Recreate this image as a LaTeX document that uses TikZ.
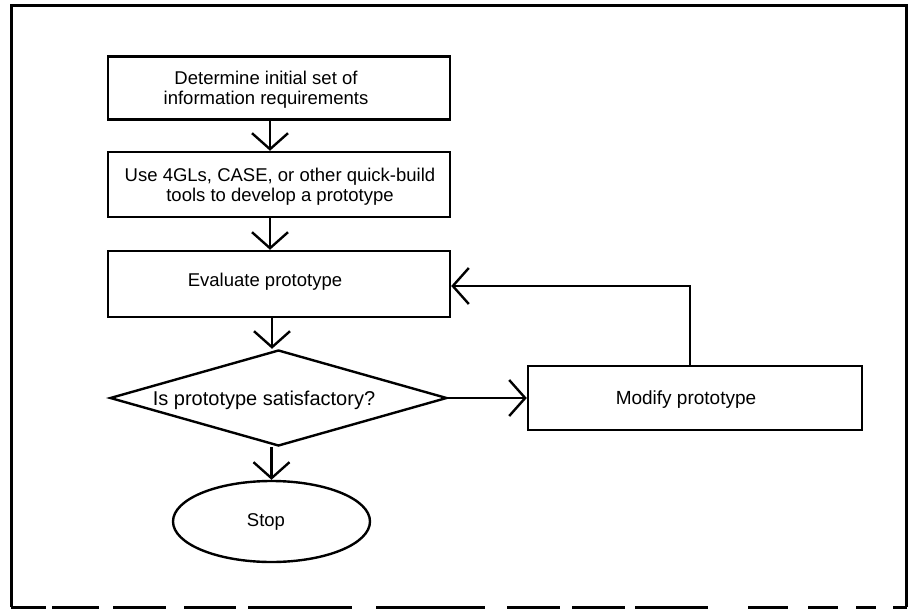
\documentclass[tikz,border=0pt]{standalone}
\usepackage{fontspec}
\setmainfont{Liberation Sans}
\usetikzlibrary{arrows.meta,shapes.geometric}
\begin{document}
\begin{tikzpicture}[x=1pt,y=-1pt,
  stepbox/.style={draw, rectangle, line width=2.4pt, inner sep=0pt},
  decision/.style={draw, diamond, line width=2.4pt, inner sep=0pt},
  terminal/.style={draw, ellipse, line width=2.4pt, inner sep=0pt},
  txt/.style={inner sep=0pt, align=center, font=\fontsize{#1}{20}\selectfont},
  txt/.default=18.5,
  flow/.style={line width=2.4pt, -{Straight Barb[length=16pt,width=36pt]}},
  frameline/.style={line width=3pt}]
  % page and frame
  \fill[white] (0,0) rectangle (911,610);
  \useasboundingbox (0,0) rectangle (911,610);
  \draw[frameline] (11,607) -- (11,6) -- (906,6) -- (906,607);
  \draw[frameline, dash pattern=on 35pt off 6pt on 47pt off 14pt on 53pt off 18pt on 52pt off 12pt on 104pt off 24pt on 109pt off 22pt on 53pt off 12pt on 53pt off 10pt on 73pt off 40pt on 40pt off 20pt on 30pt off 18pt on 20pt off 17pt]
    (11,607) -- (907,607);

  % process boxes
  \node[stepbox, minimum width=342pt, minimum height=63pt] (b1) at (279,88) {};
  \node[txt] (t1) at (266,90) {Determine initial set of\\information requirements};

  \node[stepbox, minimum width=342pt, minimum height=65pt] (b2) at (279,184.5) {};
  \node[txt] (t2) at (280,187) {Use 4GLs, CASE, or other quick-build\\tools to develop a prototype};

  \node[stepbox, minimum width=342pt, minimum height=66pt] (b3) at (279,284) {};
  \node[txt] (t3) at (265,282) {Evaluate prototype};

  % decision
  \node[decision, minimum width=337pt, minimum height=96pt] (d) at (278.5,398) {};
  \node[txt=20] (td) at (264,400) {Is prototype satisfactory?};

  % modification step
  \node[stepbox, minimum width=334pt, minimum height=64pt] (m) at (695,398) {};
  \node[txt=19] (tm) at (686,400) {Modify prototype};

  % end
  \node[terminal, minimum width=197pt, minimum height=81pt] (st) at (271.5,521.5) {};
  \node[txt] (ts) at (266,522) {Stop};

  % connectors
  \draw[flow] ([xshift=-9pt]b1.south) -- ([xshift=-9pt]b2.north);
  \draw[flow] ([xshift=-9pt]b2.south) -- ([xshift=-9pt]b3.north);
  \draw[flow] ([xshift=-7pt]b3.south) -- ([xshift=-7pt]b3.south |- d.north);
  \draw[flow] (d.south -| st.north) -- (st.north);
  \draw[flow] (d.east) -- (m.west);
  \draw[flow] ([xshift=-5pt]m.north) |- ([yshift=-2pt]b3.east);
\end{tikzpicture}
\end{document}
